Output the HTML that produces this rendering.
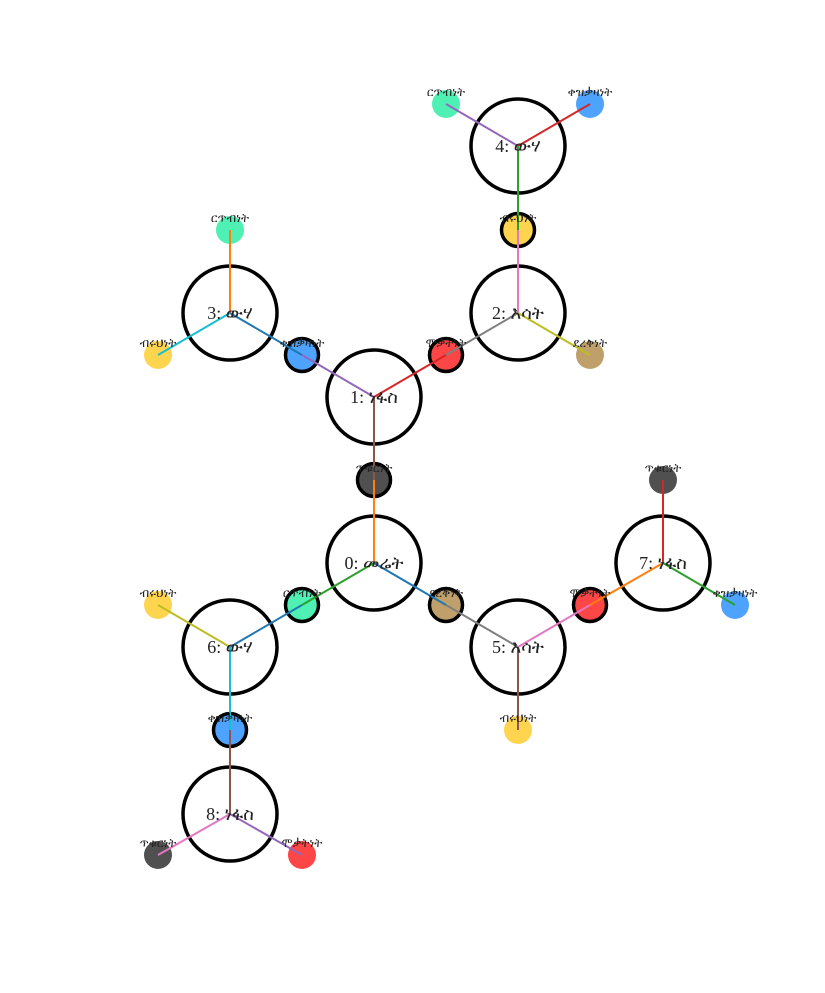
<!DOCTYPE html>
<html><head><meta charset="utf-8"><style>body{margin:0;background:#fff}svg{display:block}</style></head>
<body>
<svg width="825" height="993" viewBox="0 0 825 993" xmlns="http://www.w3.org/2000/svg">
<g fill="#fff" stroke="#000" stroke-width="3.5">
<circle cx="518" cy="146" r="47"/><circle cx="518" cy="313" r="47"/><circle cx="230" cy="313" r="47"/>
<circle cx="374" cy="397" r="47"/><circle cx="374" cy="563" r="47"/><circle cx="663" cy="563" r="47"/>
<circle cx="518" cy="647" r="47"/><circle cx="230" cy="647" r="47"/><circle cx="230" cy="814" r="47"/>
</g>
<g stroke="#000" stroke-width="3.5">
<circle cx="518" cy="230" r="16.5" fill="#ffd54f"/>
<circle cx="446" cy="355" r="16.5" fill="#ff4646"/>
<circle cx="302" cy="355" r="16.5" fill="#4da3ff"/>
<circle cx="374" cy="480" r="16.5" fill="#505050"/>
<circle cx="302" cy="605" r="16.5" fill="#4ef0b4"/>
<circle cx="446" cy="605" r="16.5" fill="#c0a06a"/>
<circle cx="590" cy="605" r="16.5" fill="#ff4646"/>
<circle cx="230" cy="730" r="16.5" fill="#4da3ff"/>
</g>
<g>
<circle cx="446" cy="104" r="14" fill="#4ef0b4"/>
<circle cx="590" cy="104" r="14" fill="#4da3ff"/>
<circle cx="230" cy="230" r="14" fill="#4ef0b4"/>
<circle cx="158" cy="355" r="14" fill="#ffd54f"/>
<circle cx="590" cy="355" r="14" fill="#c0a06a"/>
<circle cx="663" cy="480" r="14" fill="#505050"/>
<circle cx="158" cy="605" r="14" fill="#ffd54f"/>
<circle cx="735" cy="605" r="14" fill="#4da3ff"/>
<circle cx="518" cy="730" r="14" fill="#ffd54f"/>
<circle cx="158" cy="855" r="14" fill="#505050"/>
<circle cx="302" cy="855" r="14" fill="#ff4646"/>
</g>
<g stroke-width="2">
<line x1="518" y1="146" x2="446" y2="104" stroke="#9467bd"/>
<line x1="518" y1="146" x2="590" y2="104" stroke="#d62728"/>
<line x1="518" y1="146" x2="518" y2="230" stroke="#2ca02c"/>
<line x1="518" y1="313" x2="518" y2="230" stroke="#e377c2"/>
<line x1="518" y1="313" x2="446" y2="355" stroke="#7f7f7f"/>
<line x1="518" y1="313" x2="590" y2="355" stroke="#bcbd22"/>
<line x1="374" y1="397" x2="446" y2="355" stroke="#d62728"/>
<line x1="374" y1="397" x2="302" y2="355" stroke="#9467bd"/>
<line x1="374" y1="397" x2="374" y2="480" stroke="#8c564b"/>
<line x1="230" y1="313" x2="230" y2="230" stroke="#ff7f0e"/>
<line x1="230" y1="313" x2="158" y2="355" stroke="#17becf"/>
<line x1="230" y1="313" x2="302" y2="355" stroke="#1f77b4"/>
<line x1="374" y1="563" x2="374" y2="480" stroke="#ff7f0e"/>
<line x1="374" y1="563" x2="302" y2="605" stroke="#2ca02c"/>
<line x1="374" y1="563" x2="446" y2="605" stroke="#1f77b4"/>
<line x1="230" y1="647" x2="158" y2="605" stroke="#bcbd22"/>
<line x1="230" y1="647" x2="302" y2="605" stroke="#1f77b4"/>
<line x1="230" y1="647" x2="230" y2="730" stroke="#17becf"/>
<line x1="518" y1="647" x2="446" y2="605" stroke="#7f7f7f"/>
<line x1="518" y1="647" x2="590" y2="605" stroke="#e377c2"/>
<line x1="518" y1="647" x2="518" y2="730" stroke="#8c564b"/>
<line x1="663" y1="563" x2="663" y2="480" stroke="#d62728"/>
<line x1="663" y1="563" x2="590" y2="605" stroke="#ff7f0e"/>
<line x1="663" y1="563" x2="735" y2="605" stroke="#2ca02c"/>
<line x1="230" y1="814" x2="230" y2="730" stroke="#8c564b"/>
<line x1="230" y1="814" x2="158" y2="855" stroke="#e377c2"/>
<line x1="230" y1="814" x2="302" y2="855" stroke="#9467bd"/>
</g>
<g font-family="'Liberation Serif','DejaVu Serif',serif" font-size="18" text-anchor="middle" fill="#222">
<text x="518" y="152">4: ውሃ</text><text x="518" y="319">2: እሳት</text><text x="230" y="319">3: ውሃ</text>
<text x="374" y="403">1: ነፋስ</text><text x="374" y="569">0: መሬት</text><text x="663" y="569">7: ነፋስ</text>
<text x="518" y="653">5: እሳት</text><text x="230" y="653">6: ውሃ</text><text x="230" y="820">8: ነፋስ</text>
</g>
<g font-family="'Liberation Serif','DejaVu Serif',serif" font-size="12" text-anchor="middle" fill="#222">
<text x="446" y="96">ርጥብነት</text><text x="590" y="96">ቀዝቃዛነት</text>
<text x="518" y="222">ብሩህነት</text>
<text x="230" y="222">ርጥብነት</text>
<text x="158" y="347">ብሩህነት</text><text x="302" y="347">ቀዝቃዛነት</text><text x="446" y="347">ሞቃትነት</text><text x="590" y="347">ደረቅነት</text>
<text x="374" y="472">ጥቁርነት</text><text x="663" y="472">ጥቁርነት</text>
<text x="158" y="597">ብሩህነት</text><text x="302" y="597">ርጥብነት</text><text x="446" y="597">ደረቅነት</text><text x="590" y="597">ሞቃትነት</text><text x="735" y="597">ቀዝቃዛነት</text>
<text x="230" y="722">ቀዝቃዛነት</text><text x="518" y="722">ብሩህነት</text>
<text x="158" y="847">ጥቁርነት</text><text x="302" y="847">ሞቃትነት</text>
</g>
</svg>
</body></html>
